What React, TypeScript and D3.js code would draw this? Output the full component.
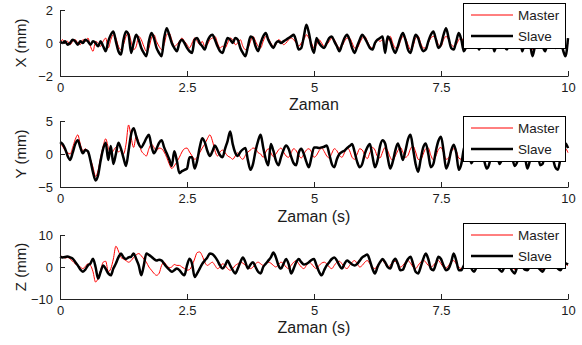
import React, { useEffect, useRef } from 'react';
import * as d3 from 'd3';

// time axis (seconds), samples are evenly spaced over [0, timeEnd]
const timeEnd = 10;
const xTicks = [0, 2.5, 5, 7.5, 10];
const xTickLabels = ['0', '2.5', '5', '7.5', '10'];

const seriesNames = ['Master', 'Slave'];
const yLabels = ['X (mm)', 'Y (mm)', 'Z (mm)'];
const xLabels = ['Zaman', 'Zaman (s)', 'Zaman (s)'];
const yTicksX = [-2, 0, 2];
const yTicksY = [-5, 0, 5];
const yTicksZ = [-10, 0, 10];

// X axis (mm)
const masterX = [
  0.0, 0.2, 0.0, 0.1, -0.1, 0.1, 0.2, 0.0, -0.1, 0.2, 0.1, 0.3, -0.2, -0.5, 0.1, 0.0, -0.2, 0.1, 0.3, -0.3,
  0.2, 0.5, 0.3, -0.2, -0.4, -0.1, 0.4, 0.6, 0.1, -0.4, -0.2, 0.4, 0.2, -0.2, -0.5, -0.3, 0.3, 0.5, 0.1, -0.2,
  -0.4, -0.1, 0.5, 0.6, 0.2, -0.2, -0.1, 0.1, 0.3, 0.1, -0.1, -0.3, 0.0, 0.3, 0.1, -0.1, 0.1, -0.2, -0.1, 0.2,
  0.3, 0.4, 0.0, -0.3, -0.2, -0.3, 0.0, 0.3, 0.2, -0.1, 0.0, 0.2, -0.2, -0.4, -0.3, 0.1, 0.4, 0.1, -0.2, -0.3,
  0.1, 0.4, 0.3, 0.0, -0.2, -0.1, 0.2, 0.1, -0.1, 0.0, 0.2, 0.3, 0.2, 0.0, -0.2, 0.0, 0.2, 0.5, 0.3, 0.0,
  -0.3, -0.1, 0.2, 0.0, -0.2, -0.1, 0.1, 0.3, 0.2, -0.1, -0.3, -0.2, 0.1, 0.3, 0.3, 0.0, -0.3, -0.3, 0.0, 0.3,
  0.4, 0.1, -0.2, -0.3, -0.1, 0.2, 0.1, 0.2, -0.3, 0.1, 0.4, 0.0, -0.3, -0.3, 0.1, 0.4, 0.3, -0.1, -0.4, -0.2,
  0.3, 0.4, 0.0, -0.3, -0.3, 0.0, 0.3, 0.4, 0.3, -0.1, -0.2, 0.2, 0.4, 0.2, -0.1, -0.2, -0.1, 0.2, 0.3, 0.0,
  -0.3, 0.0, 0.2, -0.1, -0.2, 0.1, 0.2, -0.1, -0.3, 0.0, 0.2, -0.2, -0.3, 0.1, 0.2, -0.1, -0.3, 0.0, 0.2, 0.1,
  -0.2, -0.3, 0.0, 0.2, 0.1, -0.2, -0.4, 0.0, 0.2, 0.1, -0.2, -0.3, 0.1, 0.2, 0.0, -0.2, -0.1, 0.1, -0.2, -0.3,
  0.0
];
const slaveX = [
  0.1, 0.0, 0.1, -0.1, 0.0, 0.2, 0.1, -0.1, 0.1, 0.0, 0.2, 0.1, -0.1, 0.1, 0.0, -0.2, 0.1, -0.2, -0.5, 0.1,
  0.5, 0.7, 0.1, -0.5, -0.7, 0.2, 0.7, 0.5, -0.6, 0.0, 0.5, 0.2, -0.3, -0.6, -0.8, 0.1, 0.6, 0.3, -0.3, -0.6,
  -0.8, 0.3, 0.9, 0.5, 0.0, -0.3, -0.5, 0.0, 0.2, 0.0, -0.3, -0.5, -0.6, 0.2, 0.3, 0.0, -0.2, -0.4, 0.1, 0.4,
  0.5, 0.2, -0.2, -0.5, -0.6, -0.1, 0.3, 0.2, 0.0, 0.3, 0.2, -0.3, -0.6, -0.8, -0.2, 0.4, 0.3, -0.2, -0.5, 0.0,
  0.4, 0.6, 0.2, -0.1, -0.3, 0.0, 0.1, 0.0, 0.1, 0.2, 0.3, 0.4, 0.5, 0.1, -0.4, -0.3, 0.4, 1.1, 0.6, -0.2,
  -0.6, 0.3, 0.0, -0.2, -0.3, 0.0, 0.3, 0.4, 0.1, -0.2, -0.5, -0.1, 0.3, 0.5, 0.2, -0.3, -0.6, -0.2, 0.2, 0.5,
  0.3, 0.0, -0.3, -0.4, 0.0, 0.2, 0.3, 0.4, -0.6, 0.4, 0.2, -0.3, -0.6, -0.2, 0.3, 0.6, 0.2, -0.4, -0.6, 0.0,
  0.5, 0.3, -0.2, -0.5, -0.4, 0.1, 0.5, 0.7, 0.2, -0.3, -0.1, 0.5, 0.9, 0.3, -0.3, -0.4, 0.1, 0.6, 0.2, -0.5,
  -0.2, 0.3, 0.1, -0.2, 0.0, -0.4, 0.1, 0.3, 0.0, -0.3, 0.2, -0.5, 0.0, 0.3, 0.1, -0.2, -0.4, 0.2, 0.4, 0.1,
  -0.2, 0.2, -0.5, 0.0, 0.3, 0.0, -0.8, -0.2, 0.3, 0.2, -0.2, -0.5, 0.0, 0.3, 0.1, -0.3, -0.2, 0.2, -0.4, -0.8,
  0.3
];

// Y axis (mm)
const masterY = [
  1.5, 1.2, 0.5, 0.2, 0.0, 1.0, 2.2, 2.9, 1.5, 0.5, 0.8, 0.2, -0.8, -2.0, -3.4, -2.5, -0.5, 1.2, 2.3, 1.0,
  0.0, 0.5, 1.0, 0.3, 0.6, 0.0, 1.5, 4.4, 2.5, 1.0, 2.7, 1.8, 0.5, 0.0, -0.3, 0.8, 1.5, 1.0, 0.5, 0.9,
  0.8, 0.3, -0.5, -1.5, -2.2, -1.8, -1.2, -0.5, 0.3, 0.8, 0.9, 0.3, -0.3, -0.8, -0.5, 0.2, 0.9, 1.5, 2.3, 2.9,
  2.0, 0.5, -0.3, 0.3, 0.6, 0.2, -0.3, -0.5, -0.8, -0.3, 0.2, -0.5, -0.8, -0.2, 0.3, 0.6, 0.9, 0.8, 0.2, 0.0,
  -0.5, 0.3, 0.8, 0.2, -0.4, 0.0, 0.6, 0.9, 0.3, -0.3, -0.5, 0.2, 0.8, 0.5, -0.2, -0.6, 0.0, 0.6, 0.8, 0.3,
  -0.5, -0.2, 0.5, 0.9, 0.4, -0.3, -0.6, 0.1, 0.8, 0.5, -0.2, -0.5, 0.2, 1.0, 0.5, -0.5, -0.8, 0.0, 0.8, 0.6,
  -0.2, -0.7, 0.2, 1.0, 0.6, -0.4, -0.6, 0.3, 1.0, 0.5, -0.5, -1.0, -0.3, 0.5, 1.0, 0.3, -0.5, -0.2, 0.8, 1.2,
  0.3, -0.8, -0.9, 0.0, 0.8, 0.9, -0.2, -0.9, -0.3, 0.7, 1.0, 0.2, -0.8, -0.6, 0.3, 0.8, 0.5, -0.6, -0.8, 0.0,
  0.8, 0.6, -0.3, -0.8, 0.0, 0.8, 0.7, -0.2, -0.9, -0.5, 0.4, 0.9, 0.3, -0.6, -0.8, 0.1, 0.8, 0.6, -0.3, -0.9,
  -0.4, 0.4, 0.9, 0.2, -0.7, -0.8, 0.0, 0.8, 0.6, -0.4, -0.9, -0.3, 0.5, 0.9, 0.2, -0.6, -0.8, 0.0, 0.7, 0.8,
  0.2
];
const slaveY = [
  1.8, 1.5, 0.8, -0.3, -0.9, 0.2, 1.5, 2.1, 1.0, 0.1, 0.6, 0.4, -1.0, -2.8, -4.0, -3.2, -1.0, 0.8, 1.7, -0.9,
  1.2, -1.5, 0.0, 1.7, 0.8, -0.6, -1.8, 0.5, 3.0, 3.9, 2.7, 1.5, 1.0, 1.6, 2.4, 2.9, 1.2, 0.1, 0.8, 1.7,
  2.1, 1.0, 0.1, -0.8, -1.8, 0.4, -1.0, -2.9, -2.6, -2.4, -2.2, -0.5, -0.5, -2.2, -1.0, 1.0, 2.4, 1.8, 0.5, -0.3,
  0.4, 1.3, 0.6, -0.2, -0.5, 0.8, 2.0, 3.4, 1.5, 0.2, -0.3, 0.3, 0.7, 0.9, -1.0, -2.4, -1.5, 0.5, 2.0, 2.9,
  1.0, -0.8, -1.7, 1.5, 0.5, -1.0, -1.7, -0.5, 0.6, 1.3, 0.8, -0.4, -1.4, -1.7, 0.2, 0.8, 0.0, -1.2, -2.0, -0.5,
  1.0, 1.0, 0.9, 1.0, 1.1, 1.3, 0.0, -1.5, -2.0, -0.8, 0.0, 0.3, 0.5, 0.9, 1.2, 1.5, 0.3, -1.2, -2.0, -1.5,
  0.0, 1.0, 1.5, -0.3, -2.0, -1.0, 1.2, 2.1, 1.6, -0.5, -2.2, -1.2, 0.5, 1.6, 0.5, -0.9, 0.5, 2.2, 2.9, 0.8,
  -1.5, -2.7, -0.8, 1.0, 1.6, 0.0, -2.0, -1.5, 0.5, 2.0, 2.6, 0.5, -2.2, -1.3, 0.5, 1.4, 0.2, -2.4, -1.5, 0.8,
  1.5, 0.0, -1.4, -0.5, 1.0, 1.5, 0.5, -1.0, -2.2, -1.5, 0.5, 1.5, 0.2, -1.5, -0.8, 0.8, 1.6, 1.0, -0.5, -1.8,
  -1.2, 0.5, 1.5, -0.2, -2.2, -1.0, 0.8, 1.5, 0.5, -1.7, -1.5, 0.3, 1.4, 1.2, -0.5, -2.0, -2.4, -0.8, 0.8, 1.6,
  0.9
];

// Z axis (mm)
const masterZ = [
  3.5, 3.2, 2.8, 3.0, 2.5, 1.8, 1.0, 0.5, 0.0, -0.5, 0.2, 1.0, 0.5, -1.5, -4.7, -3.5, -1.0, 1.5, 1.8, -1.5,
  -0.5, 2.5, 6.5, 5.0, 3.0, 2.5, 2.0, 1.5, 2.0, 3.0, 3.8, 4.2, 3.5, 2.5, 1.5, 0.0, -1.0, -2.0, -2.6, -2.0,
  0.5, 1.5, 0.5, -0.2, 0.0, 0.8, 0.5, 0.5, 0.0, -0.5, -1.0, -0.8, 0.5, 2.5, 4.5, 4.7, 3.5, 1.5, 0.5, 1.0,
  1.5, 0.5, -0.5, 0.0, 1.0, 0.5, -0.5, -1.0, -0.5, 0.5, 1.0, 1.5, 1.2, 0.5, 0.0, -0.5, 0.0, 1.0, 1.5, 1.0,
  0.5, 1.0, 1.5, 1.2, 0.5, 0.0, 0.8, 1.5, 1.0, 0.0, -0.5, 0.5, 1.5, 2.0, 1.0, 0.0, -0.5, 0.5, 1.5, 1.0,
  0.0, -0.5, 0.5, 1.2, 1.5, 1.0, 0.0, -0.5, 0.5, 1.5, 1.8, 1.0, 0.0, -0.5, 0.5, 1.5, 2.0, 1.0, 0.0, 0.5,
  1.5, 2.0, 1.0, 0.0, -0.5, 0.5, 1.5, 2.0, 1.0, 0.0, 0.5, 1.5, 1.8, 0.8, 0.0, 0.5, 1.5, 2.0, 1.2, 0.0,
  -0.5, 0.5, 1.5, 2.2, 1.5, 0.5, 0.0, 0.5, 1.5, 2.0, 1.0, 0.0, -0.3, 0.5, 1.5, 2.0, 1.0, 0.0, -0.5, 0.5,
  1.0, 0.5, 0.0, -0.5, 0.3, 1.0, 0.5, 0.0, 0.5, 1.0, 0.3, -0.3, 0.0, 0.5, -0.5, -0.3, 0.5, 0.8, 0.0, -0.8,
  -0.5, 0.5, 0.8, 0.0, -0.5, 0.0, 0.8, 0.5, -0.2, -0.5, -0.8, 0.0, 0.7, 0.5, -0.2, 0.2, -0.3, -0.5, 0.2, 0.8,
  0.5
];
const slaveZ = [
  3.2, 3.0, 3.1, 3.3, 3.0, 2.6, 1.6, 0.5, -0.8, -1.5, -0.8, 0.5, 1.1, 2.6, 0.0, -3.6, -1.5, 0.5, -0.6, -2.0,
  -2.6, -0.5, 1.1, 3.0, 4.2, 3.0, 2.5, 3.0, 3.2, 4.2, 2.5, 0.5, -2.6, 0.5, 4.2, 3.8, 3.2, 2.5, 2.0, 2.3,
  2.0, 1.0, 0.0, -0.8, -1.5, -1.0, -0.5, -1.0, -2.0, -2.6, 0.5, 2.6, 1.0, -3.1, -2.0, -0.5, 1.0, 2.0, 3.0, 4.2,
  4.0, 3.2, 2.0, 0.5, -0.5, 0.5, 2.0, 0.5, -1.0, -2.0, -0.5, 1.5, 3.0, 1.5, -0.5, 0.8, 1.5, 0.0, -1.5, -2.0,
  0.0, 1.0, 2.0, 3.0, 4.5, 3.0, 0.5, -0.5, 1.0, 2.5, 1.0, -2.0, -0.5, 1.5, 2.5, 1.5, 0.8, 1.0, 1.5, 2.2,
  2.5, 0.5, -1.5, -2.6, -1.0, 0.5, 1.5, 2.5, 3.0, 2.0, 0.5, -0.5, 1.0, 2.0, 1.5, 0.8, 0.5, 1.0, 2.0, 3.0,
  3.5, 3.9, 2.0, -0.5, -2.0, 0.0, 1.5, 2.5, 1.5, 0.0, -0.5, 1.5, 2.6, 1.0, -1.0, -0.8, 1.0, 2.5, 3.2, 1.0,
  -1.5, -2.0, 0.0, 2.5, 4.2, 2.5, -0.5, -1.0, 1.0, 3.2, 2.5, 0.5, -1.0, -0.5, 1.5, 4.2, 2.0, -1.0, -1.0, 0.5,
  1.5, 1.0, -0.5, -1.5, 0.0, 1.5, 1.0, 0.5, 1.2, 0.8, 0.0, 1.0, 0.5, -0.8, -1.5, 0.0, 1.0, 0.3, -1.2, -2.0,
  0.0, 1.2, 0.3, -0.8, -1.0, 0.2, 1.0, 0.8, 0.0, -0.8, -1.5, 0.0, 1.2, 0.8, 0.0, 0.5, -0.5, -1.0, 0.3, 1.2,
  0.8
];

const masterSeries = [masterX, masterY, masterZ];
const slaveSeries = [slaveX, slaveY, slaveZ];
const yTickSets = [yTicksX, yTicksY, yTicksZ];

// panel placement in the 582x345 frame
const plotLeft = 60;
const plotRight = 568;
const panels = [
  { top: 10, bottom: 76, legendTop: 3, xLabelY: 110 },
  { top: 121, bottom: 187, legendTop: 116, xLabelY: 222 },
  { top: 235, bottom: 299, legendTop: 223, xLabelY: 333 }
];

const font = '"Liberation Sans", Arial, sans-serif';
const textColor = '#1c1c1c';

export default function App() {
  const svgRef = useRef<SVGSVGElement>(null);

  useEffect(() => {
    document.body.style.margin = '0';
    const svg = d3.select(svgRef.current);
    svg.selectAll('*').remove();

    svg.append('rect').attr('width', 582).attr('height', 345).attr('fill', '#fff');

    const x = d3.scaleLinear().domain([0, timeEnd]).range([plotLeft, plotRight]);

    panels.forEach((p, k) => {
      const ticks = yTickSets[k];
      const y = d3.scaleLinear()
        .domain([ticks[0], ticks[ticks.length - 1]])
        .range([p.bottom, p.top]);

      const g = svg.append('g');

      // data lines: master under, slave on top
      const toPoints = (vals: number[]) =>
        vals.map((v, i) => [i * timeEnd / (vals.length - 1), v] as [number, number]);
      const line = d3.line<[number, number]>()
        .x(d => x(d[0]))
        .y(d => y(d[1]))
        .curve(d3.curveMonotoneX);

      g.append('path')
        .attr('d', line(toPoints(masterSeries[k])))
        .attr('fill', 'none')
        .attr('stroke', '#ff0000')
        .attr('stroke-width', 1);

      g.append('path')
        .attr('d', line(toPoints(slaveSeries[k])))
        .attr('fill', 'none')
        .attr('stroke', '#000')
        .attr('stroke-width', 2.5)
        .attr('stroke-linejoin', 'round');

      // axes (only left and bottom, ticks point inward)
      const xAxis = d3.axisBottom(x)
        .tickValues(xTicks)
        .tickFormat((d, i) => xTickLabels[i])
        .tickSizeInner(-5)
        .tickSizeOuter(0)
        .tickPadding(7);
      const yAxis = d3.axisLeft(y)
        .tickValues(ticks)
        .tickFormat(d3.format('d'))
        .tickSizeInner(-5)
        .tickSizeOuter(0)
        .tickPadding(7);

      const gx = g.append('g').attr('transform', `translate(0,${p.bottom})`).call(xAxis);
      const gy = g.append('g').attr('transform', `translate(${plotLeft},0)`).call(yAxis);
      [gx, gy].forEach(a => {
        a.selectAll('path, line').attr('stroke', '#222');
        a.selectAll('text')
          .attr('fill', textColor)
          .style('font-family', font)
          .style('font-size', '13px');
      });

      // axis titles
      g.append('text')
        .attr('x', (plotLeft + plotRight) / 2)
        .attr('y', p.xLabelY)
        .attr('text-anchor', 'middle')
        .attr('fill', textColor)
        .style('font-family', font)
        .style('font-size', '16px')
        .text(xLabels[k]);

      g.append('text')
        .attr('transform', `translate(26,${(p.top + p.bottom) / 2}) rotate(-90)`)
        .attr('text-anchor', 'middle')
        .attr('fill', textColor)
        .style('font-family', font)
        .style('font-size', '15px')
        .text(yLabels[k]);

      // legend
      const lg = g.append('g').attr('transform', `translate(463,${p.legendTop})`);
      lg.append('rect')
        .attr('x', 0.5)
        .attr('y', 0.5)
        .attr('width', 102)
        .attr('height', 45)
        .attr('fill', '#fff')
        .attr('stroke', '#000')
        .attr('stroke-width', 1);

      const legendRows = [
        { name: seriesNames[0], color: '#ff0000', width: 1 },
        { name: seriesNames[1], color: '#000', width: 2.5 }
      ];
      legendRows.forEach((r, i) => {
        const ry = 12 + i * 21;
        lg.append('line')
          .attr('x1', 8)
          .attr('x2', 50)
          .attr('y1', ry)
          .attr('y2', ry)
          .attr('stroke', r.color)
          .attr('stroke-width', r.width);
        lg.append('text')
          .attr('x', 55)
          .attr('y', ry)
          .attr('dy', '0.35em')
          .attr('fill', textColor)
          .style('font-family', font)
          .style('font-size', '13.5px')
          .text(r.name);
      });
    });
  }, []);

  return <svg ref={svgRef} width={582} height={345} style={{ display: 'block' }} />;
}
